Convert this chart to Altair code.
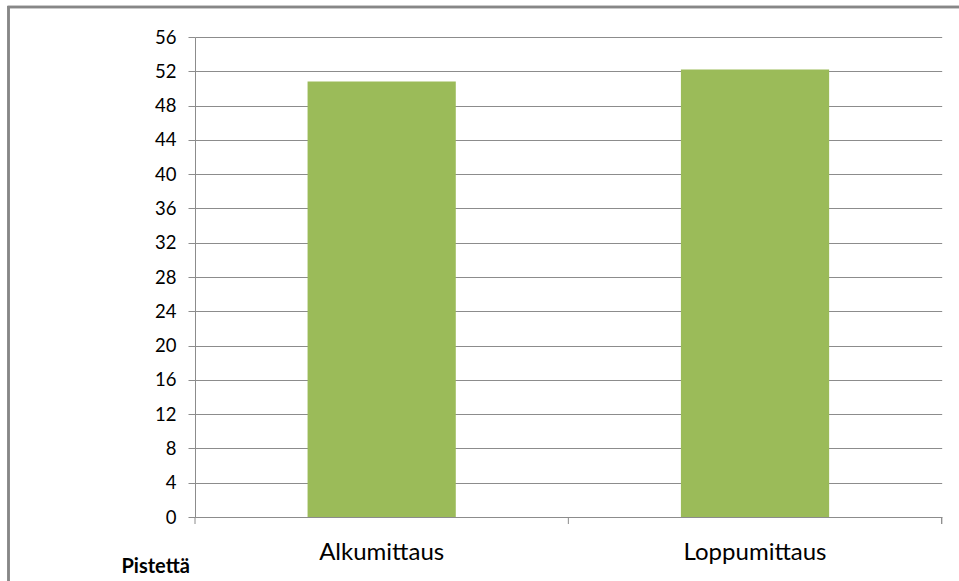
import altair as alt
import pandas as pd

categories = ["Alkumittaus", "Loppumittaus"]
values = [50.8, 52.2]
y_ticks = list(range(0, 57, 4))

df = pd.DataFrame({"cat": categories, "val": values})

W = 746.7
H = 480
FONT = "Lato"

base = alt.Chart(df)

x_scale = alt.Scale(paddingInner=0, paddingOuter=0, domain=categories)

bars = base.mark_bar(color="#9BBB59", width=alt.RelativeBandSize(0.397)).encode(
    x=alt.X("cat:N", scale=x_scale, sort=categories,
            axis=alt.Axis(title=None, labelAngle=0, ticks=False, labelPadding=23,
                          labelFontSize=24, labelFont=FONT, labelColor="#000000",
                          domainColor="#8c8c8c", domainWidth=1, grid=False)),
    y=alt.Y("val:Q", scale=alt.Scale(domain=[0, 56], nice=False),
            axis=alt.Axis(values=y_ticks, title="Pistettä", titleAngle=0,
                          titleAlign="left", titleBaseline="middle",
                          titleX=-74, titleY=529, titleFont=FONT, titleFontSize=20,
                          titleFontWeight="bold", titleColor="#000000",
                          labelFont=FONT, labelFontSize=18.5, labelColor="#000000",
                          labelPadding=12, tickSize=7, tickColor="#8c8c8c",
                          domainColor="#8c8c8c", gridColor="#8c8c8c", gridWidth=1)),
)

ticks = base.mark_rule(color="#8c8c8c", strokeWidth=1).encode(
    x=alt.X("cat:N", scale=x_scale, sort=categories, bandPosition=0),
    y=alt.value(H),
    y2=alt.value(H + 7),
)

end_tick = base.mark_rule(color="#8c8c8c", strokeWidth=1).encode(
    x=alt.value(W), y=alt.value(H), y2=alt.value(H + 7),
)

frame_left = base.mark_rule(color="#878787", strokeWidth=2.5, clip=False).encode(
    x=alt.value(8.5 - 195), y=alt.value(6 - 37), y2=alt.value(581 - 37),
)
frame_top = base.mark_rule(color="#878787", strokeWidth=2.5, clip=False).encode(
    x=alt.value(7.5 - 195), x2=alt.value(959 - 195), y=alt.value(7 - 37),
)

chart = alt.layer(bars, ticks, end_tick, frame_left, frame_top).properties(
    width=W, height=H,
    autosize=alt.AutoSizeParams(type="none"),
    padding={"left": 195, "top": 37, "right": 959 - 195 - W, "bottom": 581 - 37 - H},
    background="white",
).configure_view(stroke=None)

chart.save("out.html", embed_options={"renderer": "svg", "actions": False})
